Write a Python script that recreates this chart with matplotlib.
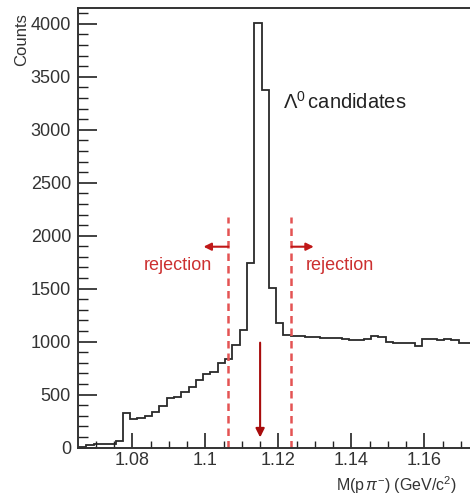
import numpy as np
import matplotlib
matplotlib.use("Agg")
import matplotlib.pyplot as plt
from matplotlib.ticker import MultipleLocator

plt.rcParams['font.family'] = ['Liberation Sans', 'DejaVu Sans']
plt.rcParams['mathtext.fontset'] = 'custom'
plt.rcParams['mathtext.rm'] = 'Liberation Sans'
plt.rcParams['mathtext.it'] = 'Liberation Sans:italic'
plt.rcParams['mathtext.bf'] = 'Liberation Sans:bold'

# ---- data ----
bin_start = 1.0654
bin_width = 0.002
counts = [5, 25, 30, 30, 35, 60,
          329, 269, 282, 301, 333, 396, 465, 474, 528, 575, 638, 695, 717, 796,
          840, 965, 1110, 1745, 4010, 3380, 1510, 1177, 1065,
          1057, 1052, 1048, 1045, 1035, 1032, 1030, 1020, 1012, 1015,
          1025, 1055, 1040, 1000, 990, 985, 985, 962, 1020, 1020,
          1015, 1020, 1015, 990, 990]
cut_low = 1.1063
cut_high = 1.1236
lambda_mass = 1.1150
xticks = [1.08, 1.10, 1.12, 1.14, 1.16]
xticklabels = ['1.08', '1.1', '1.12', '1.14', '1.16']
yticks = [0, 500, 1000, 1500, 2000, 2500, 3000, 3500, 4000]

edges = bin_start + bin_width * np.arange(len(counts) + 1)

fig = plt.figure(figsize=(4.70, 4.97), dpi=100)
ax = fig.add_axes([78/470, 49.5/497, 1 - 78/470 + 0.003, (447.5 - 8)/497])

ax.stairs(counts, edges, color='#2a2a2a', lw=1.3, baseline=0)

ax.set_xlim(1.0651, 1.1729)
ax.set_ylim(0, 4150)

ax.set_xticks(xticks)
ax.set_xticklabels(xticklabels)
ax.set_yticks(yticks)
ax.xaxis.set_minor_locator(MultipleLocator(0.005))
ax.yaxis.set_minor_locator(MultipleLocator(100))
ax.tick_params(axis='both', which='both', direction='in', labelsize=13,
               colors='#222222', labelcolor='#333333')
ax.tick_params(axis='y', which='major', length=14, width=1.2, pad=5)
ax.tick_params(axis='y', which='minor', length=7, width=1.0)
ax.tick_params(axis='x', which='major', length=11, width=1.2, pad=3)
ax.tick_params(axis='x', which='minor', length=5, width=1.0)
for s in ['left', 'bottom', 'top']:
    ax.spines[s].set_linewidth(1.4)
    ax.spines[s].set_color('#333333')
ax.spines['right'].set_visible(False)

# cut lines
dash_col = '#e45454'
for xc in [cut_low, cut_high]:
    ax.plot([xc, xc], [0, 2180], color=dash_col, lw=1.8, ls=(0, (3, 2)))

arr_col = '#c01818'
ax.annotate('', xy=(1.0995, 1896), xytext=(cut_low, 1896),
            arrowprops=dict(arrowstyle='-|>', color=arr_col, lw=1.5, mutation_scale=11,
                            shrinkA=0, shrinkB=0))
ax.annotate('', xy=(1.1297, 1896), xytext=(cut_high, 1896),
            arrowprops=dict(arrowstyle='-|>', color=arr_col, lw=1.5, mutation_scale=11,
                            shrinkA=0, shrinkB=0))
ax.annotate('', xy=(lambda_mass, 95), xytext=(lambda_mass, 990),
            arrowprops=dict(arrowstyle='-|>', color='#a80c0c', lw=1.5, mutation_scale=13,
                            shrinkA=0, shrinkB=0))

ax.text(1.0924, 1716, 'rejection', color='#cc3030', fontsize=13, ha='center', va='center')
ax.text(1.1368, 1716, 'rejection', color='#cc3030', fontsize=13, ha='center', va='center')
ax.text(1.1212, 3267, r'$\Lambda^{0}\,$candidates', color='#222222', fontsize=14.5,
        ha='left', va='center')

fig.text(22/470, 1 - 13/497, 'Counts', rotation=90, ha='center', va='top',
         fontsize=12, color='#333333')
fig.text(457/470, 1 - 485/497, r'M(p$\,\pi^{-}$) (GeV/c$^{2}$)', ha='right', va='center',
         fontsize=11.5, color='#333333')

fig.savefig('out.png', dpi=100)
